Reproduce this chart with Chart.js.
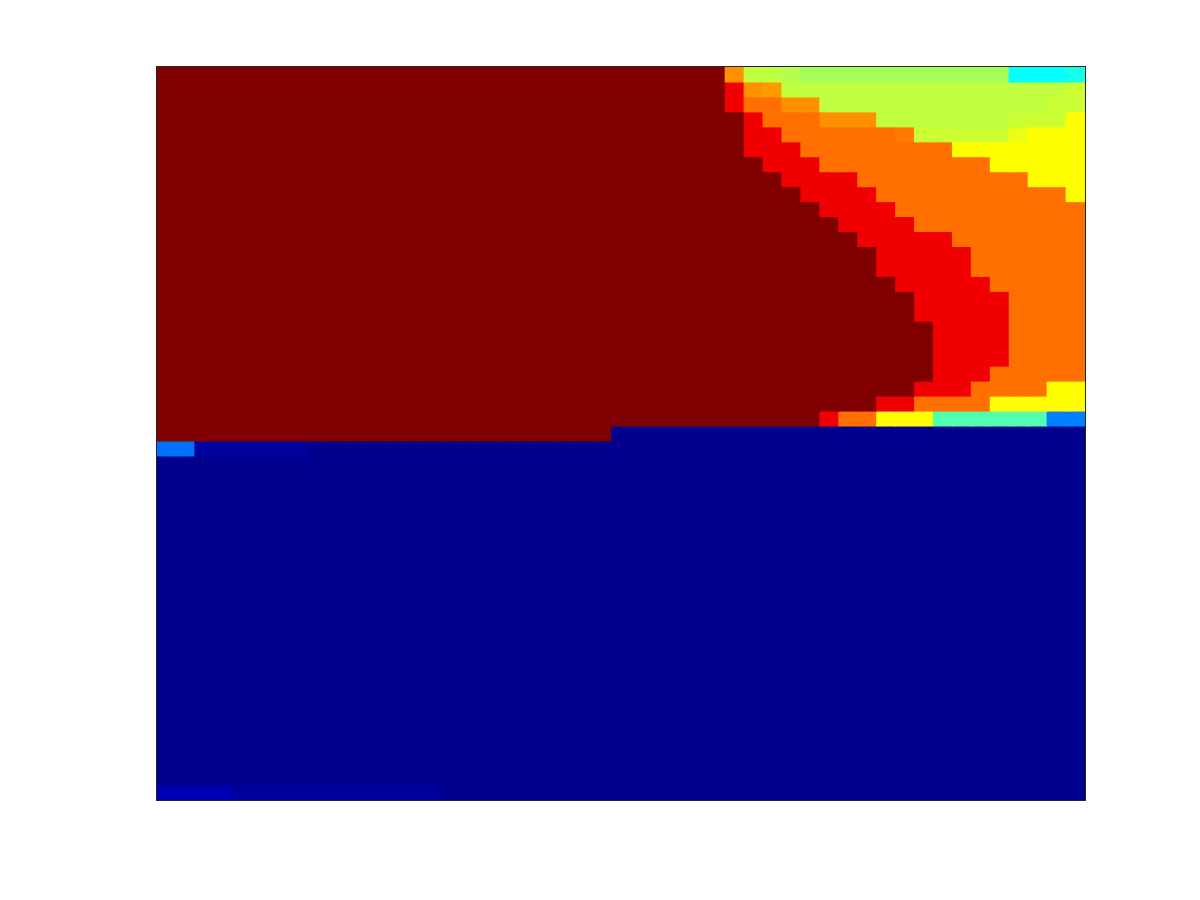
<!DOCTYPE html>
<html>
<head>
<meta charset="utf-8">
<script src="https://cdn.jsdelivr.net/npm/chart.js@4/dist/chart.umd.min.js"></script>
<style>
  html, body { margin: 0; padding: 0; background: #ffffff; }
  #wrap { width: 1200px; height: 900px; }
</style>
</head>
<body>
<div id="wrap"><canvas id="c" width="1200" height="900"></canvas></div>
<script>
// Value levels (jet colormap, 0..1)
const DR = 1.0, R = 0.89, OR = 0.765, O3 = 0.755, O = 0.733, O2 = 0.723;
const Y = 0.625, GY = 0.605, YG2 = 0.575, YG = 0.5625, YG3 = 0.551, LG = 0.536;
const AQ = 0.453, AC = 0.395, C = 0.375, B = 0.25, B2 = 0.235;
const NB = 0.015, NB2 = 0.031, NB3 = 0.05;

// Column categories (49 columns)
const columns = ["1","2","3","4","5","6","7","8","9","10","11","12","13","14","15","16","17","18","19","20",
  "21","22","23","24","25","26","27","28","29","30","31","32","33","34","35","36","37","38","39","40",
  "41","42","43","44","45","46","47","48","49"];

// Rows from top to bottom, run-length encoded as [value, count]
const row0  = [[DR,30],[O,1],[YG,2],[YG3,1],[LG,11],[C,3],[AC,1]];
const row1  = [[DR,30],[R,1],[O,1],[O2,1],[YG,15],[YG2,1]];
const row2  = [[DR,30],[R,1],[OR,2],[O,2],[YG,12],[YG2,2]];
const row3  = [[DR,31],[R,1],[OR,3],[O,3],[YG,7],[YG2,3],[Y,1]];
const row4  = [[DR,31],[R,2],[OR,6],[O3,1],[YG2,5],[GY,1],[Y,3]];
const row5  = [[DR,31],[R,3],[OR,8],[Y,7]];
const row6  = [[DR,32],[R,3],[OR,9],[Y,5]];
const row7  = [[DR,33],[R,4],[OR,9],[Y,3]];
const row8  = [[DR,34],[R,4],[OR,10],[Y,1]];
const row9  = [[DR,35],[R,4],[OR,10]];
const row10 = [[DR,36],[R,4],[OR,9]];
const row11 = [[DR,37],[R,5],[OR,7]];
const row12 = [[DR,38],[R,5],[OR,6]];
const row13 = [[DR,38],[R,5],[OR,6]];
const row14 = [[DR,39],[R,5],[OR,5]];
const row15 = [[DR,40],[R,5],[OR,4]];
const row16 = [[DR,40],[R,5],[OR,4]];
const row17 = [[DR,41],[R,4],[OR,4]];
const row18 = [[DR,41],[R,4],[OR,4]];
const row19 = [[DR,41],[R,4],[OR,4]];
const row20 = [[DR,41],[R,3],[OR,5]];
const row21 = [[DR,40],[R,3],[OR,4],[Y,2]];
const row22 = [[DR,38],[R,2],[OR,4],[Y,5]];
const row23 = [[DR,35],[R,1],[OR,2],[Y,3],[AQ,6],[B,2]];
const row24 = [[DR,24],[NB,25]];
const row25 = [[B2,2],[NB2,6],[NB,41]];
const rowFlat = [[NB,49]];
const row48 = [[NB3,4],[NB2,11],[NB,34]];

const rowsRLE = [row0,row1,row2,row3,row4,row5,row6,row7,row8,row9,row10,row11,row12,row13,row14,row15,
  row16,row17,row18,row19,row20,row21,row22,row23,row24,row25,
  rowFlat,rowFlat,rowFlat,rowFlat,rowFlat,rowFlat,rowFlat,rowFlat,rowFlat,rowFlat,rowFlat,
  rowFlat,rowFlat,rowFlat,rowFlat,rowFlat,rowFlat,rowFlat,rowFlat,rowFlat,rowFlat,rowFlat,
  row48];

function expand(rle) {
  const out = [];
  rle.forEach(([v, n]) => { for (let i = 0; i < n; i++) out.push(v); });
  return out;
}
const grid = rowsRLE.map(expand);

function clamp(x) { return Math.max(0, Math.min(1, x)); }
function jet(v) {
  const r = clamp(Math.min(4*v - 1.5, -4*v + 4.5));
  const g = clamp(Math.min(4*v - 0.5, -4*v + 3.5));
  const b = clamp(Math.min(4*v + 0.5, -4*v + 2.5));
  return `rgb(${Math.round(r*255)},${Math.round(g*255)},${Math.round(b*255)})`;
}

const datasets = grid.map((rowVals, ri) => ({
  label: 'row ' + (ri + 1),
  data: rowVals.map(() => 1),
  cellValues: rowVals,
  backgroundColor: rowVals.map(jet),
  borderWidth: 0,
  barPercentage: 1,
  categoryPercentage: 1,
  inflateAmount: 0.5
}));

const borderPlugin = {
  id: 'frame',
  afterDraw(chart) {
    const {ctx, chartArea: a} = chart;
    ctx.save();
    ctx.strokeStyle = '#262626';
    ctx.lineWidth = 1;
    ctx.strokeRect(Math.round(a.left) - 0.5, Math.round(a.top) - 0.5,
                   Math.round(a.right - a.left) + 1, Math.round(a.bottom - a.top) + 1);
    ctx.restore();
  }
};

new Chart(document.getElementById('c'), {
  type: 'bar',
  data: { labels: columns, datasets },
  options: {
    responsive: false,
    animation: false,
    layout: { padding: { left: 157, top: 67, right: 115, bottom: 100 } },
    plugins: { legend: { display: false }, tooltip: { enabled: false } },
    scales: {
      x: { stacked: true, display: false, offset: true },
      y: { stacked: true, display: false, reverse: true, min: 0, max: 49 }
    }
  },
  plugins: [borderPlugin]
});
</script>
</body>
</html>
